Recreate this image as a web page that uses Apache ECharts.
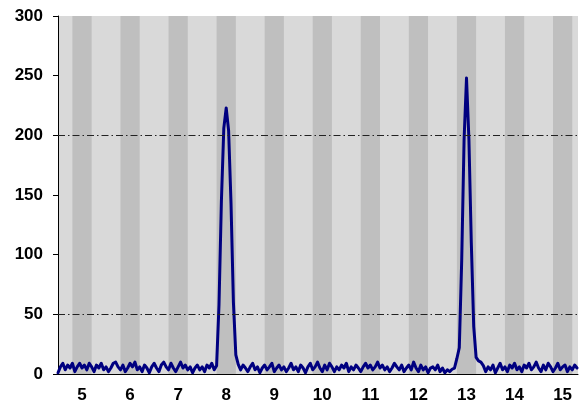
<!DOCTYPE html>
<html><head><meta charset="utf-8">
<script src="https://cdn.jsdelivr.net/npm/echarts@6/dist/echarts.min.js"></script>
<style>html,body{margin:0;padding:0;background:#fff}#c{width:581px;height:404px}</style>
</head><body><div id="c"></div>
<script>
// Sampled signal: first sample time and sampling step (x units)
const startTime = 4.5;
const timeStep = 0.05;
// Signal values, one per sample (4.50 ... 15.30)
const signal = [
  1, 6, 9, 3.5, 7.5, 5, 9, 2, 6, 9,
  5, 7.5, 3.5, 9, 6, 2, 7.5, 5, 9, 3.5,
  6, 2, 5, 9, 10, 6, 3.5, 7.5, 2, 5,
  9, 6, 10, 3.5, 6, 2, 7.5, 5, 1, 6,
  9, 5, 2, 7.5, 10, 6, 3.5, 9, 5, 2,
  6, 10, 5, 7.5, 3.5, 6, 1, 5, 7.5, 3.5,
  6, 2, 7.5, 5, 9, 3.5, 7, 58, 145, 206,
  223, 204, 143, 60, 16, 8,
  3.5, 7.5, 5, 2, 6, 9, 3.5, 6, 1, 5,
  7.5, 3.5, 6, 9, 2, 5, 7.5, 3.5, 6, 2,
  5, 9, 3.5, 6, 2, 7.5, 5, 1, 6, 9,
  3.5, 6, 10, 5, 2, 7.5, 3.5, 9, 6, 2,
  6, 3.5, 7.5, 5, 9, 2, 6, 3.5, 7.5, 5,
  2, 6, 9, 5, 7.5, 3.5, 6, 10, 5, 7.5,
  3.5, 6, 2, 5, 9, 6, 3.5, 7.5, 2, 5,
  7.5, 3.5, 10, 5, 2, 7.5, 3.5, 6, 1, 5,
  6, 3.5, 7.5, 2, 5, 1, 3.5, 2, 4, 5,
  13, 22, 95, 197, 248, 197, 110, 40, 14, 11, 10, 7,
  2, 6, 3.5, 7.5, 1, 5, 9, 3.5, 6, 2,
  7.5, 5, 9, 3.5, 6, 2, 7.5, 5, 9, 3.5,
  6, 10, 5, 2, 7.5, 3.5, 9, 6, 2, 5,
  9, 3.5, 6, 7.5, 2, 6, 3.5, 7.5, 5
];
const xTickLabels = [5, 6, 7, 8, 9, 10, 11, 12, 13, 14, 15];
const yTickValues = [0, 50, 100, 150, 200, 250, 300];
const referenceLines = [50, 200];

const data = signal.map((v, i) => [+(startTime + i * timeStep).toFixed(2), v]);
const bandHalf = 0.2;
const bands = xTickLabels.map(c => [{ xAxis: c - bandHalf }, { xAxis: c + bandHalf }]);

const font = { fontFamily: 'Liberation Sans, Arial, sans-serif', fontWeight: 'bold', fontSize: 17, color: '#000' };

const chart = echarts.init(document.getElementById('c'), null, { renderer: 'canvas' });
chart.setOption({
  animation: false,
  backgroundColor: '#fff',
  grid: { left: 58, right: 0, top: 16, bottom: 28, show: true, backgroundColor: '#D9D9D9', borderWidth: 0 },
  xAxis: {
    type: 'value', min: 4.5, max: 15.32, interval: 0.5,
    axisLine: { show: true, onZero: false, lineStyle: { color: '#000', width: 1 } },
    axisTick: { show: false },
    splitLine: { show: false },
    axisLabel: Object.assign({ margin: 13, showMinLabel: true, showMaxLabel: true,
      formatter: v => (xTickLabels.indexOf(v) >= 0 ? String(v) : '') }, font)
  },
  yAxis: {
    type: 'value', min: yTickValues[0], max: yTickValues[yTickValues.length - 1], interval: 50,
    axisLine: { show: true, lineStyle: { color: '#000', width: 1 } },
    axisTick: { show: true, length: 5, inside: false, lineStyle: { color: '#000' } },
    splitLine: { show: false },
    axisLabel: Object.assign({ margin: 15 }, font)
  },
  series: [{
    type: 'line', data: data, symbol: 'none', smooth: false,
    lineStyle: { color: '#000080', width: 3, join: 'round', cap: 'round' },
    markArea: { silent: true, itemStyle: { color: '#BFBFBF' }, data: bands },
    markLine: {
      silent: true, symbol: 'none', label: { show: false },
      lineStyle: { color: '#222', width: 1, type: [7, 3, 1.5, 3] },
      data: referenceLines.map(v => ({ yAxis: v }))
    }
  }]
});
</script></body></html>
